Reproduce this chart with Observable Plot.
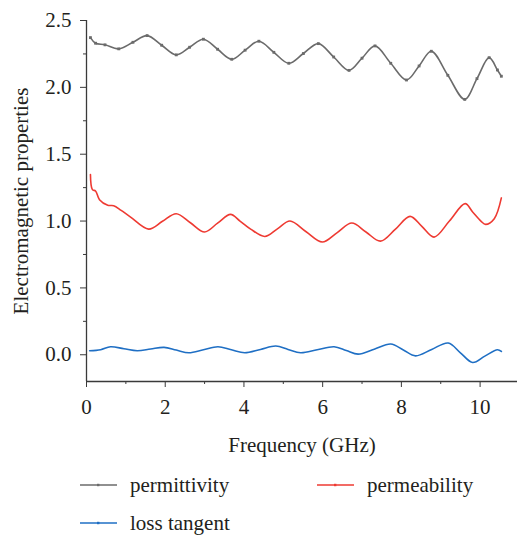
<!DOCTYPE html>
<html>
<head>
<meta charset="utf-8">
<script src="https://cdn.jsdelivr.net/npm/d3@7"></script>
<script src="https://cdn.jsdelivr.net/npm/@observablehq/plot@0.6"></script>
<style>
  html, body { margin: 0; padding: 0; background: #fff; }
  #wrap { position: relative; width: 517px; height: 536px; font-family: 'Times New Roman', Tinos, serif; color: #231f20; }
  .leg { position: absolute; display: flex; align-items: center; font-family: 'Times New Roman', Tinos, serif; font-size: 21px; line-height: 1; }
  .leg svg { margin-right: 13px; }
  svg text { font-family: 'Times New Roman', Tinos, serif; }
</style>
</head>
<body>
<div id="wrap"></div>
<script>
// Permittivity readings (GHz, value)
const permittivityFreq = [0.10, 0.23, 0.47, 0.82, 1.18, 1.54, 1.91, 2.28, 2.62, 2.97, 3.33, 3.69, 4.03, 4.38, 4.76, 5.14, 5.51, 5.89, 6.28, 6.67, 7.00, 7.33, 7.73, 8.13, 8.45, 8.76, 9.18, 9.61, 9.92, 10.23, 10.44, 10.54];
const permittivityValue = [2.372, 2.330, 2.318, 2.288, 2.337, 2.387, 2.315, 2.243, 2.300, 2.360, 2.285, 2.210, 2.278, 2.345, 2.262, 2.180, 2.253, 2.327, 2.227, 2.127, 2.218, 2.310, 2.180, 2.055, 2.160, 2.270, 2.090, 1.910, 2.065, 2.222, 2.130, 2.083];

// Permeability readings
const permeabilityFreq = [0.10, 0.15, 0.23, 0.33, 0.54, 0.69, 0.88, 1.12, 1.58, 1.93, 2.28, 2.64, 3.00, 3.33, 3.66, 3.90, 4.17, 4.53, 4.85, 5.17, 5.58, 5.99, 6.37, 6.74, 7.10, 7.47, 7.85, 8.22, 8.52, 8.83, 9.22, 9.62, 9.81, 10.02, 10.14, 10.36, 10.54];
const permeabilityValue = [1.348, 1.235, 1.225, 1.160, 1.118, 1.115, 1.080, 1.030, 0.940, 0.998, 1.055, 0.987, 0.918, 0.984, 1.050, 1.000, 0.940, 0.885, 0.942, 1.000, 0.920, 0.843, 0.914, 0.985, 0.918, 0.850, 0.940, 1.035, 0.960, 0.880, 1.000, 1.130, 1.068, 1.000, 0.975, 1.018, 1.173];

// Loss tangent readings
const lossFreq = [0.08, 0.36, 0.61, 0.95, 1.29, 1.63, 1.97, 2.28, 2.60, 2.97, 3.34, 3.68, 4.02, 4.42, 4.81, 5.12, 5.44, 5.86, 6.29, 6.60, 6.90, 7.31, 7.73, 8.05, 8.36, 8.77, 9.19, 9.50, 9.81, 10.12, 10.44, 10.54];
const lossValue = [0.030, 0.038, 0.060, 0.045, 0.030, 0.043, 0.055, 0.035, 0.015, 0.037, 0.060, 0.037, 0.015, 0.040, 0.065, 0.040, 0.015, 0.037, 0.060, 0.032, 0.005, 0.042, 0.080, 0.036, -0.008, 0.040, 0.088, 0.015, -0.058, -0.010, 0.038, 0.025];

const seriesNames = ["permittivity", "permeability", "loss tangent"];
const seriesColors = ["#6b6b6b", "#ee3a32", "#1f6fc4"];

const xMajor = [0, 2, 4, 6, 8, 10];
const xMinor = [1, 3, 5, 7, 9];
const yMajor = [0, 0.5, 1.0, 1.5, 2.0, 2.5];
const yMinor = [0.25, 0.75, 1.25, 1.75, 2.25];

const toRows = (fs, vs) => fs.map((f, i) => ({f, v: vs[i]}));
const perm = toRows(permittivityFreq, permittivityValue);
const mu = toRows(permeabilityFreq, permeabilityValue);
const loss = toRows(lossFreq, lossValue);

const axisColor = "#3a3a3a";
const textColor = "#231f20";
const FONT = "'Times New Roman', Tinos, serif";

const chart = Plot.plot({
  width: 517,
  height: 470,
  marginTop: 20,
  marginLeft: 86,
  marginRight: 0,
  marginBottom: 89,
  style: {fontFamily: FONT, fontSize: "21px", color: textColor, background: "#fff"},
  x: {domain: [0, 10.95]},
  y: {domain: [-0.2, 2.5]},
  marks: [
    Plot.axisY({ticks: yMajor, tickFormat: d3.format(".1f"), tickSize: 6, tickPadding: 9, label: null, stroke: axisColor, fill: textColor, fontSize: 21, fontFamily: FONT}),
    Plot.axisY({ticks: yMinor, tickFormat: () => "", tickSize: 3, label: null, stroke: axisColor}),
    Plot.axisX({ticks: xMajor, tickFormat: d3.format("d"), tickSize: 6, tickPadding: 12, label: null, stroke: axisColor, fill: textColor, fontSize: 21, fontFamily: FONT}),
    Plot.axisX({ticks: xMinor, tickFormat: () => "", tickSize: 3, label: null, stroke: axisColor}),
    Plot.ruleX([0], {y1: -0.2, y2: 2.5, stroke: axisColor, strokeWidth: 1.3}),
    Plot.ruleY([-0.2], {stroke: axisColor, strokeWidth: 1.3}),
    Plot.text(["Frequency (GHz)"], {frameAnchor: "bottom", dy: 70, fontSize: 21, fontFamily: FONT, fill: textColor}),
    Plot.text(["Electromagnetic properties"], {frameAnchor: "left", textAnchor: "middle", dx: -65, rotate: -90, fontSize: 21, fontFamily: FONT, fill: textColor}),
    Plot.line(perm, {x: "f", y: "v", stroke: seriesColors[0], strokeWidth: 1.6, curve: "catmull-rom"}),
    Plot.dot(perm, {x: "f", y: "v", symbol: "square", r: 1.6, fill: seriesColors[0], stroke: "none"}),
    Plot.line(mu, {x: "f", y: "v", stroke: seriesColors[1], strokeWidth: 1.6, curve: "catmull-rom"}),
    Plot.line(loss, {x: "f", y: "v", stroke: seriesColors[2], strokeWidth: 1.6, curve: "catmull-rom"})
  ]
});

const wrap = document.getElementById("wrap");
chart.style.position = "absolute";
chart.style.left = "0px";
chart.style.top = "0px";
wrap.appendChild(chart);

const legendPos = [[80, 485], [317, 485], [80, 523]];
seriesNames.forEach((name, i) => {
  const d = document.createElement("div");
  d.className = "leg";
  d.style.left = legendPos[i][0] + "px";
  d.style.top = (legendPos[i][1] - 11) + "px";
  d.style.height = "22px";
  d.innerHTML = `<svg width="37" height="6"><line x1="0" y1="3" x2="37" y2="3" stroke="${seriesColors[i]}" stroke-width="1.5"/><rect x="17" y="1.8" width="2.4" height="2.4" fill="${seriesColors[i]}"/></svg><span>${name}</span>`;
  wrap.appendChild(d);
});
</script>
</body>
</html>
